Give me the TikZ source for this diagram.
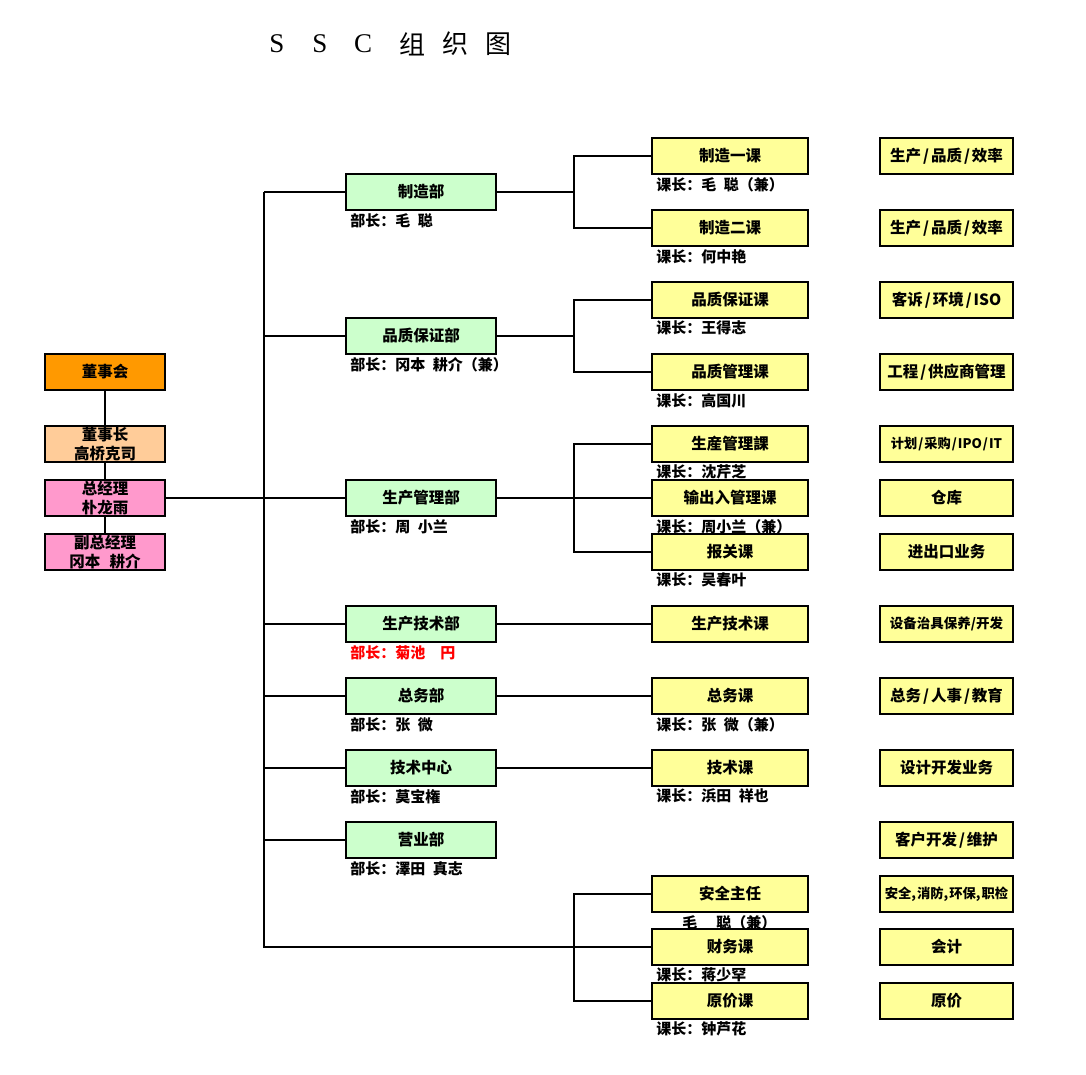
\documentclass[tikz,border=0pt]{standalone}
\usepackage{fontspec}
\setmainfont{Liberation Serif}
\newfontfamily\cjk{Noto Sans CJK SC}
\newfontfamily\titlelatin{Liberation Serif}
\usetikzlibrary{positioning,calc}
\pgfdeclarelayer{background}
\pgfdeclarelayer{canvas}
\pgfsetlayers{canvas,background,main}
\definecolor{orangebox}{HTML}{FF9900}
\definecolor{peachbox}{HTML}{FFCC99}
\definecolor{pinkbox}{HTML}{FF99CC}
\definecolor{greenbox}{HTML}{CCFFCC}
\definecolor{yellowbox}{HTML}{FFFF99}
\definecolor{redtext}{HTML}{FF0000}
\newcommand{\hs}{\hspace{0.5em}}
\tikzset{
  conn/.style={draw=black, line width=1.8pt},
  boxbase/.style={draw=black, line width=1.8pt, minimum height=36pt, inner sep=0pt,
    align=center, font=\cjk\bfseries\fontsize{15.5}{18.5}\selectfont},
  topbox/.style={boxbase, minimum width=120pt},
  deptbox/.style={boxbase, fill=greenbox, minimum width=150pt},
  secbox/.style={boxbase, fill=yellowbox, minimum width=156pt},
  dutybox/.style={boxbase, fill=yellowbox, minimum width=133pt},
  lab/.style={inner sep=0pt, anchor=north west, font=\cjk\bfseries\fontsize{15}{16}\selectfont},
  titlech/.style={inner sep=0pt, font=\cjk\fontsize{26}{28}\selectfont},
  titlelt/.style={inner sep=0pt, font=\titlelatin\fontsize{27}{28}\selectfont},
}
\begin{document}
\begin{tikzpicture}[x=1pt,y=-1pt]
\begin{pgfonlayer}{canvas}
\fill[white] (0,0) rectangle (1086,1074);
\end{pgfonlayer}
\useasboundingbox (0,0) rectangle (1086,1074);

% title
\node[titlelt] (t1) at (277,44) {S};
\node[titlelt] (t2) at (320,44) {S};
\node[titlelt] (t3) at (363,44) {C};
\node[titlech] (t4) at (412,44) {组};
\node[titlech] (t5) at (455,44) {织};
\node[titlech] (t6) at (498,44) {图};

% left column
\node[topbox, fill=orangebox] (dsh) at (105,372) {董事会};
\node[topbox, fill=peachbox] (dsz) at (105,444) {董事长\\高桥克司};
\node[topbox, fill=pinkbox] (zjl) at (105,498) {总经理\\朴龙雨};
\node[topbox, fill=pinkbox] (fzjl) at (105,552) {副总经理\\冈本\hspace{0.6em}耕介};

% departments
\node[deptbox] (d1) at (421,192) {制造部};
\node[deptbox] (d2) at (421,336) {品质保证部};
\node[deptbox] (d3) at (421,498) {生产管理部};
\node[deptbox] (d4) at (421,624) {生产技术部};
\node[deptbox] (d5) at (421,696) {总务部};
\node[deptbox] (d6) at (421,768) {技术中心};
\node[deptbox] (d7) at (421,840) {营业部};

% sections
\node[secbox] (k1) at (730,156) {制造一课};
\node[secbox] (k2) at (730,228) {制造二课};
\node[secbox] (k3) at (730,300) {品质保证课};
\node[secbox] (k4) at (730,372) {品质管理课};
\node[secbox] (k5) at (730,444) {生産管理課};
\node[secbox] (k6) at (730,498) {输出入管理课};
\node[secbox] (k7) at (730,552) {报关课};
\node[secbox] (k8) at (730,624) {生产技术课};
\node[secbox] (k9) at (730,696) {总务课};
\node[secbox] (k10) at (730,768) {技术课};
\node[secbox] (k11) at (730,894) {安全主任};
\node[secbox] (k12) at (730,947) {财务课};
\node[secbox] (k13) at (730,1001) {原价课};

% duties
\node[dutybox] (r1) at (946.5,156) {生产\kern2pt/\kern2pt品质\kern2pt/\kern2pt效率};
\node[dutybox] (r2) at (946.5,228) {生产\kern2pt/\kern2pt品质\kern2pt/\kern2pt效率};
\node[dutybox] (r3) at (946.5,300) {客诉\kern2pt/\kern2pt环境\kern2pt/\kern2pt ISO};
\node[dutybox] (r4) at (946.5,372) {工程\kern2pt/\kern2pt供应商管理};
\node[dutybox, font=\cjk\bfseries\fontsize{13.2}{14}\selectfont] (r5) at (946.5,444) {计划\kern1pt/\kern1pt采购\kern1pt/\kern1pt IPO\kern1pt/\kern1pt IT};
\node[dutybox] (r6) at (946.5,498) {仓库};
\node[dutybox] (r7) at (946.5,552) {进出口业务};
\node[dutybox, font=\cjk\bfseries\fontsize{13.5}{15}\selectfont] (r8) at (946.5,624) {设备治具保养/开发};
\node[dutybox] (r9) at (946.5,696) {总务\kern2pt/\kern2pt人事\kern2pt/\kern2pt教育};
\node[dutybox] (r10) at (946.5,768) {设计开发业务};
\node[dutybox] (r11) at (946.5,840) {客户开发\kern2pt/\kern2pt维护};
\node[dutybox, font=\cjk\bfseries\fontsize{13.3}{15}\selectfont] (r12) at (946.5,894) {安全,\kern1pt消防,\kern1pt环保,\kern1pt职检};
\node[dutybox] (r13) at (946.5,947) {会计};
\node[dutybox] (r14) at (946.5,1001) {原价};

% labels (behind boxes)
\begin{pgfonlayer}{background}
\node[lab] (ld1) at ($(d1.south west)+(5,2)$) {部长：毛\hs 聪};
\node[lab] (ld2) at ($(d2.south west)+(5,2)$) {部长：冈本\hs 耕介（兼）};
\node[lab] (ld3) at ($(d3.south west)+(5,2)$) {部长：周\hs 小兰};
\node[lab, text=redtext] (ld4) at ($(d4.south west)+(5,2)$) {部长：菊池\hspace{1em}円};
\node[lab] (ld5) at ($(d5.south west)+(5,2)$) {部长：张\hs 微};
\node[lab] (ld6) at ($(d6.south west)+(5,2)$) {部长：莫宝権};
\node[lab] (ld7) at ($(d7.south west)+(5,2)$) {部长：澤田\hs 真志};
\node[lab] (lk1) at ($(k1.south west)+(5,2)$) {课长：毛\hs 聪（兼）};
\node[lab] (lk2) at ($(k2.south west)+(5,2)$) {课长：何中艳};
\node[lab] (lk3) at ($(k3.south west)+(5,2)$) {课长：王得志};
\node[lab] (lk4) at ($(k4.south west)+(5,2)$) {课长：高国川};
\node[lab] (lk5) at ($(k5.south west)+(5,2)$) {课长：沈芹芝};
\node[lab] (lk6) at ($(k6.south west)+(5,2)$) {课长：周小兰（兼）};
\node[lab] (lk7) at ($(k7.south west)+(5,2)$) {课长：吴春叶};
\node[lab] (lk9) at ($(k9.south west)+(5,2)$) {课长：张\hs 微（兼）};
\node[lab] (lk10) at ($(k10.south west)+(5,2)$) {课长：浜田\hs 祥也};
\node[lab] (lk11) at ($(k11.south west)+(31,2)$) {毛\hspace{19pt}聪（兼）};
\node[lab] (lk12) at ($(k12.south west)+(5,2)$) {课长：蒋少罕};
\node[lab] (lk13) at ($(k13.south west)+(5,2)$) {课长：钟芦花};
\end{pgfonlayer}

% connectors
\coordinate (trT) at (264,192);
\coordinate (bx) at (574,0);
\draw[conn] (dsh.south) -- (dsz.north);
\draw[conn] (dsz.south) -- (zjl.north);
\draw[conn] (zjl.south) -- (fzjl.north);
\draw[conn] (zjl.east) -- (zjl.east -| trT);
\draw[conn] (trT) -- (k12.west -| trT) -- (k12.west);
\foreach \d in {d1,d2,d3,d4,d5,d6,d7}{
  \draw[conn] (\d.west -| trT) -- (\d.west);
}
\draw[conn] (d1.east) -- (d1.east -| bx);
\draw[conn] (k1.west) -- (k1.west -| bx) -- (k2.west -| bx) -- (k2.west);
\draw[conn] (d2.east) -- (d2.east -| bx);
\draw[conn] (k3.west) -- (k3.west -| bx) -- (k4.west -| bx) -- (k4.west);
\draw[conn] (d3.east) -- (k6.west);
\draw[conn] (k5.west) -- (k5.west -| bx) -- (k7.west -| bx) -- (k7.west);
\draw[conn] (d4.east) -- (k8.west);
\draw[conn] (d5.east) -- (k9.west);
\draw[conn] (d6.east) -- (k10.west);
\draw[conn] (k11.west) -- (k11.west -| bx) -- (k13.west -| bx) -- (k13.west);
\end{tikzpicture}
\end{document}
